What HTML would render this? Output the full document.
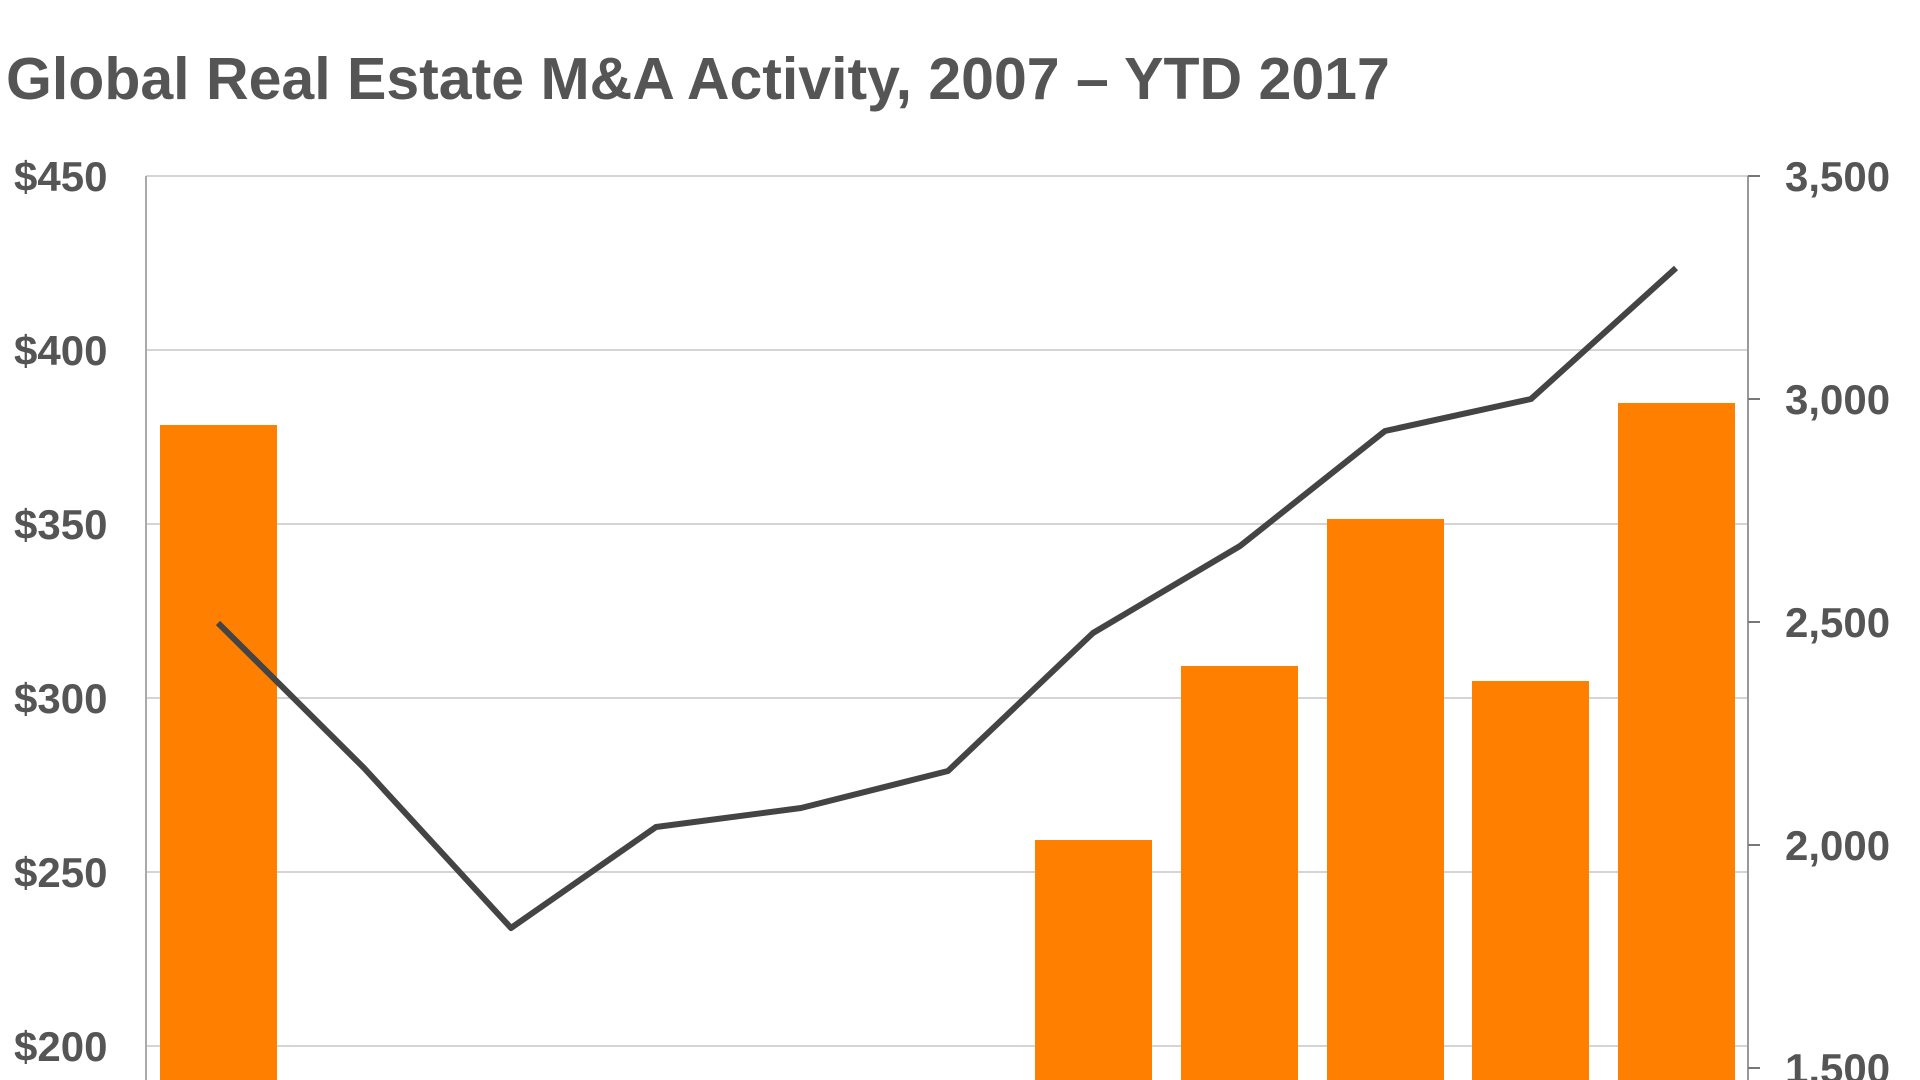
<!DOCTYPE html><html><head><style>html,body{margin:0;background:#fff;width:1920px;height:1080px;overflow:hidden}svg{display:block}</style></head><body>
<svg width="1920" height="1080" viewBox="0 0 1920 1080" xmlns="http://www.w3.org/2000/svg" font-family="Liberation Sans, sans-serif" overflow="hidden">
<text x="6" y="99" font-size="59" font-weight="bold" fill="#555">Global Real Estate M&amp;A Activity, 2007 – YTD 2017</text>
<g stroke="#d4d4d4" stroke-width="2">
<line x1="146" y1="176" x2="1748" y2="176"/><line x1="146" y1="350" x2="1748" y2="350"/><line x1="146" y1="524" x2="1748" y2="524"/><line x1="146" y1="698" x2="1748" y2="698"/><line x1="146" y1="872" x2="1748" y2="872"/><line x1="146" y1="1046" x2="1748" y2="1046"/>
</g>
<line x1="146" y1="176" x2="146" y2="1080" stroke="#aaa" stroke-width="2"/>
<line x1="1748" y1="176" x2="1748" y2="1080" stroke="#999" stroke-width="2"/>
<g stroke="#777" stroke-width="2"><line x1="1748" y1="176" x2="1760" y2="176"/><line x1="1748" y1="399" x2="1760" y2="399"/><line x1="1748" y1="622" x2="1760" y2="622"/><line x1="1748" y1="845" x2="1760" y2="845"/><line x1="1748" y1="1068" x2="1760" y2="1068"/></g>
<g font-size="42" font-weight="bold" fill="#555">
<text x="14" y="191">$450</text><text x="14" y="365">$400</text><text x="14" y="539">$350</text><text x="14" y="713">$300</text><text x="14" y="887">$250</text><text x="14" y="1061">$200</text>
<text x="1785" y="191">3,500</text><text x="1785" y="414">3,000</text><text x="1785" y="637">2,500</text><text x="1785" y="860">2,000</text><text x="1785" y="1083">1,500</text>
</g>
<g fill="#ff8000">
<rect x="160" y="425" width="117" height="655"/>
<rect x="1035" y="840" width="117" height="240"/>
<rect x="1181" y="666" width="117" height="414"/>
<rect x="1327" y="519" width="117" height="561"/>
<rect x="1472" y="681" width="117" height="399"/>
<rect x="1618" y="403" width="117" height="677"/>
</g>
<polyline fill="none" stroke="#444" stroke-width="6" stroke-linejoin="round" points="218,623 364,768 511,928 656,827 801,808 948,771 1093,633 1240,546 1385,431 1531,399 1676,268"/>
</svg></body></html>
